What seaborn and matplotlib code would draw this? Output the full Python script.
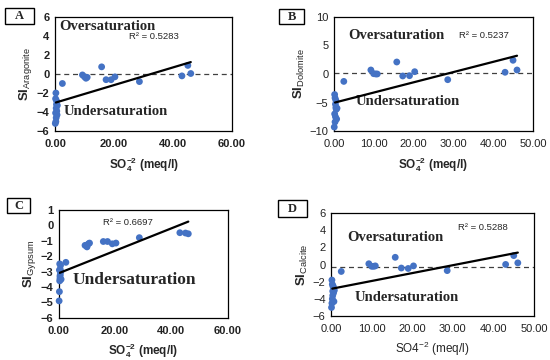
import matplotlib
matplotlib.use("Agg")
import matplotlib.pyplot as plt
import seaborn as sns
import pandas as pd

# === DATA ===
so4 = [0.1, 0.2, 0.2, 0.3, 0.3, 0.4, 0.4, 0.5, 0.5, 0.6, 0.7, 0.8,
       2.5, 9.3, 10.0, 10.5, 10.9, 15.8, 17.3, 19.0, 20.3, 28.6, 43.0, 45.0, 46.0]

si_aragonite = [-5.2, -4.1, -2.6, -5.0, -2.0, -3.6, -4.6, -3.2, -2.8, -3.9, -4.3, -3.3,
                -1.0, -0.1, -0.3, -0.45, -0.35, 0.75, -0.6, -0.6, -0.3, -0.8, -0.2, 0.9, 0.05]
si_dolomite = [-9.3, -7.0, -3.6, -8.4, -4.2, -5.3, -7.5, -4.6, -5.9, -6.2, -7.9, -6.0,
               -1.3, 0.7, 0.05, 0.0, 0.0, 2.1, -0.35, -0.3, 0.4, -1.0, 0.3, 2.4, 0.7]
si_gypsum = [-4.9, -4.3, -2.9, -3.6, -2.5, -3.45, -3.3, -3.2, -2.86, -2.6, -3.0, -3.5,
             -2.4, -1.3, -1.4, -1.2, -1.15, -1.05, -1.05, -1.2, -1.15, -0.8, -0.48, -0.5, -0.55]
si_calcite = [-5.0, -4.5, -1.8, -4.0, -2.3, -3.1, -3.6, -2.6, -2.5, -3.3, -4.3, -3.0,
              -0.8, 0.1, -0.2, -0.2, -0.15, 0.85, -0.4, -0.45, -0.15, -0.7, 0.02, 1.05, 0.2]

# trendline end points (x from 0.3 to 46)
fit_x = [0.3, 46.0]
fit_aragonite = [-3.0, 1.25]
fit_dolomite = [-5.0, 3.2]
fit_gypsum = [-3.08, 0.24]
fit_calcite = [-2.8, 1.4]

r2_labels = ["R\u00b2 = 0.5283", "R\u00b2 = 0.5237", "R\u00b2 = 0.6697", "R\u00b2 = 0.5288"]

# === STYLE ===
sns.set_theme(style="white")
plt.rcParams["font.family"] = ["Liberation Sans", "DejaVu Sans"]
plt.rcParams["mathtext.fontset"] = "custom"
plt.rcParams["mathtext.rm"] = "Liberation Sans"
plt.rcParams["mathtext.bf"] = "Liberation Sans:bold"
SERIF = "Liberation Serif"
BLUE = "#4472C4"

df = pd.DataFrame({"so4": so4, "Aragonite": si_aragonite, "Dolomite": si_dolomite,
                   "Gypsum": si_gypsum, "Calcite": si_calcite})

fig = plt.figure(figsize=(5.5, 3.6), dpi=100)

panels = [
    dict(letter="A", col="Aragonite", fit=fit_aragonite, rect=[0.100, 0.636, 0.322, 0.317],
         ylim=(-6, 6), yticks=range(-6, 7, 2), xlim=(0, 60), xticks=[0, 20, 40, 60],
         hline=0.0, bold=True, letter_xy=(0.009, 0.932, 0.052, 0.047),
         over=(1.4, 4.95, 10.5), under=(3.0, -3.9, 10.5), r2=(25.0, 3.9),
         xlabel=r"$\mathbf{SO_4^{-2}}$ (meq/l)", xlabel_bold=True),
    dict(letter="B", col="Dolomite", fit=fit_dolomite, rect=[0.607, 0.636, 0.362, 0.317],
         ylim=(-10, 10), yticks=range(-10, 11, 5), xlim=(0, 50), xticks=range(0, 51, 10),
         hline=0.25, bold=False, letter_xy=(0.507, 0.932, 0.046, 0.042),
         over=(3.5, 6.8, 10.5), under=(5.5, -4.9, 10.5), r2=(31.4, 6.8),
         xlabel=r"$\mathbf{SO_4^{-2}}$ (meq/l)", xlabel_bold=True),
    dict(letter="C", col="Gypsum", fit=fit_gypsum, rect=[0.107, 0.117, 0.307, 0.300],
         ylim=(-6, 1), yticks=range(-6, 2, 1), xlim=(0, 60), xticks=[0, 20, 40, 60],
         hline=None, bold=True, letter_xy=(0.013, 0.408, 0.042, 0.042),
         over=None, under=(5.0, -3.54, 12.5), r2=(15.6, 0.16),
         xlabel=r"$\mathbf{SO_4^{-2}}$ (meq/l)", xlabel_bold=True),
    dict(letter="D", col="Calcite", fit=fit_calcite, rect=[0.602, 0.122, 0.369, 0.286],
         ylim=(-6, 6), yticks=range(-6, 7, 2), xlim=(0, 50), xticks=range(0, 51, 10),
         hline=-0.33, bold=False, letter_xy=(0.506, 0.397, 0.052, 0.047),
         over=(3.9, 3.2, 10.5), under=(5.9, -3.8, 10.5), r2=(31.3, 4.37),
         xlabel=r"SO4$^{-2}$ (meq/l)", xlabel_bold=False),
]

for p in panels:
    ax = fig.add_axes(p["rect"])
    sns.scatterplot(data=df, x="so4", y=p["col"], ax=ax, color=BLUE, s=24,
                    edgecolor="none", clip_on=False, zorder=3)
    ax.plot(fit_x, p["fit"], color="black", lw=1.6, zorder=4)
    if p["hline"] is not None:
        ax.axhline(p["hline"], color="#404040", lw=0.9, ls=(0, (4, 3)), zorder=2)

    ax.set_xlim(*p["xlim"])
    ax.set_ylim(*p["ylim"])
    ax.set_xticks(list(p["xticks"]))
    ax.set_xticklabels([f"{v:.2f}" for v in p["xticks"]])
    ax.set_yticks(list(p["yticks"]))
    weight = "bold" if p["bold"] else "normal"
    for lab in ax.get_xticklabels() + ax.get_yticklabels():
        lab.set_fontsize(8)
        lab.set_fontweight(weight)
        lab.set_color("#222222")
    ax.tick_params(axis="x", length=0, pad=6)
    ax.tick_params(axis="y", length=0, pad=4)
    for sp in ax.spines.values():
        sp.set_color("black")
        sp.set_linewidth(0.9)

    ax.set_xlabel(p["xlabel"], fontsize=8.5,
                  fontweight="bold" if p["xlabel_bold"] else "normal", labelpad=4)
    ax.set_ylabel(r"$\mathbf{SI}_{\mathrm{%s}}$" % p["col"], fontsize=9.5, labelpad=2)

    if p["over"] is not None:
        x, y, fs = p["over"]
        ax.text(x, y, "Oversaturation", family=SERIF, fontweight="bold",
                fontsize=fs, ha="left", va="center")
    x, y, fs = p["under"]
    ax.text(x, y, "Undersaturation", family=SERIF, fontweight="bold",
            fontsize=fs, ha="left", va="center")
    ax.text(p["r2"][0], p["r2"][1], r2_labels["ABCD".index(p["letter"])],
            fontsize=6.8, ha="left", va="center")

    # panel letter box
    lx, ly, lw, lh = p["letter_xy"]
    box = plt.Rectangle((lx, ly), lw, lh, transform=fig.transFigure, fill=True,
                        facecolor="white", edgecolor="black", lw=1.0)
    fig.add_artist(box)
    fig.text(lx + lw / 2, ly + lh / 2, p["letter"], family=SERIF, fontweight="bold",
             fontsize=9, ha="center", va="center")

fig.savefig("out.png", dpi=100)
